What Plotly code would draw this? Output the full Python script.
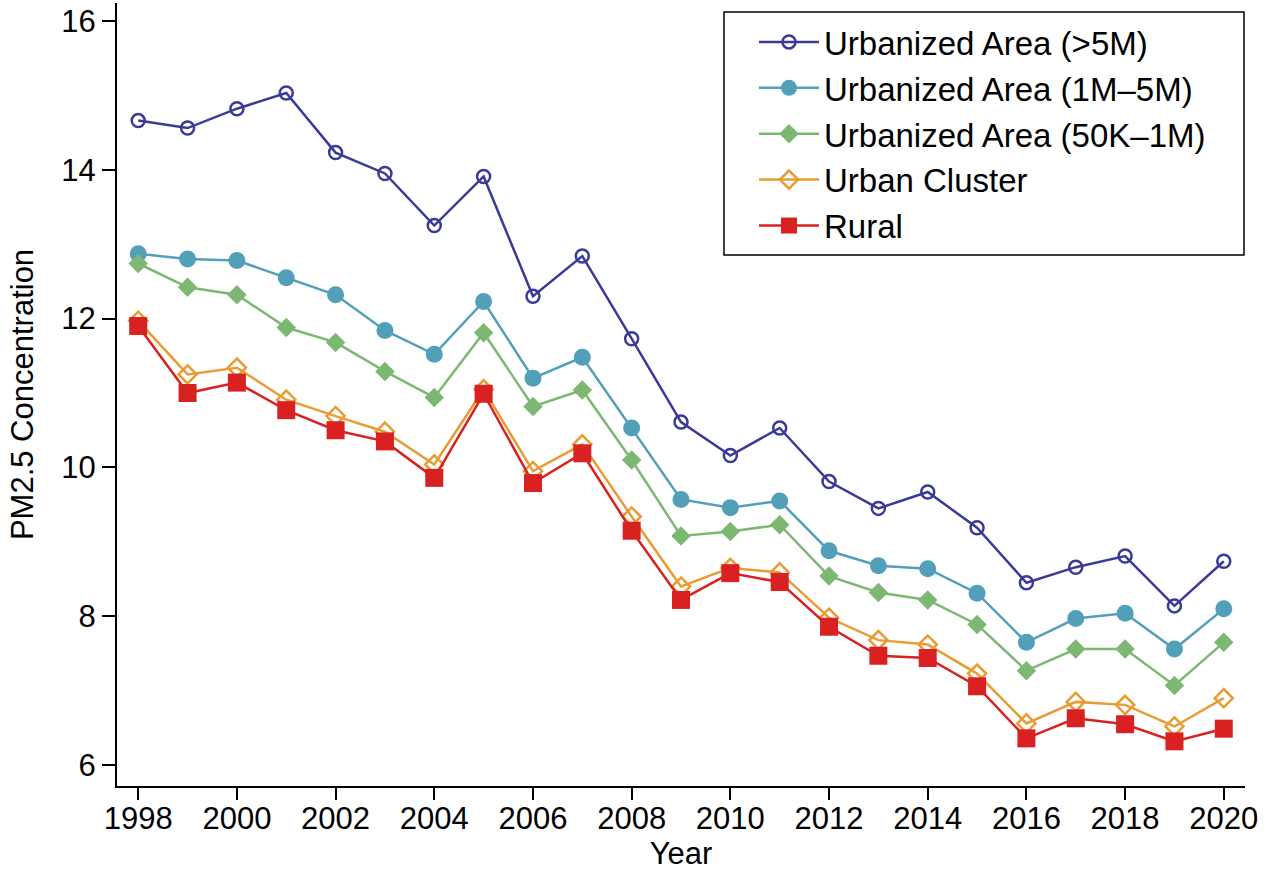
import plotly.graph_objects as go

years = list(range(1998, 2021))

ua_5m = [14.66, 14.56, 14.82, 15.03, 14.23, 13.95, 13.25, 13.91, 12.30, 12.84, 11.73, 10.61,
         10.16, 10.53, 9.81, 9.45, 9.67, 9.19, 8.45, 8.66, 8.81, 8.14, 8.74]
ua_1m5m = [12.87, 12.80, 12.78, 12.55, 12.32, 11.84, 11.52, 12.23, 11.20, 11.48, 10.53, 9.57,
           9.46, 9.55, 8.88, 8.68, 8.64, 8.31, 7.65, 7.97, 8.04, 7.56, 8.10]
ua_50k1m = [12.74, 12.42, 12.32, 11.88, 11.68, 11.29, 10.94, 11.81, 10.82, 11.04, 10.10, 9.08,
            9.14, 9.23, 8.54, 8.32, 8.22, 7.89, 7.27, 7.56, 7.56, 7.07, 7.65]
urban_cluster = [11.97, 11.25, 11.34, 10.91, 10.69, 10.48, 10.04, 11.05, 9.95, 10.31, 9.34, 8.40,
                 8.65, 8.59, 7.98, 7.68, 7.62, 7.23, 6.56, 6.85, 6.81, 6.52, 6.90]
rural = [11.90, 11.00, 11.14, 10.77, 10.50, 10.35, 9.86, 10.99, 9.79, 10.19, 9.15, 8.22,
         8.58, 8.46, 7.86, 7.47, 7.44, 7.06, 6.36, 6.63, 6.55, 6.32, 6.49]

series_names = ["Urbanized Area (>5M)", "Urbanized Area (1M\u20135M)",
                "Urbanized Area (50K\u20131M)", "Urban Cluster", "Rural"]
series_values = [ua_5m, ua_1m5m, ua_50k1m, urban_cluster, rural]
colors = ["#3a3a98", "#529fba", "#7db872", "#e89c33", "#d92121"]
symbols = ["circle-open", "circle", "diamond", "diamond-open", "square"]
sizes = [13, 17, 15, 14, 18]

FONT = "Liberation Sans, Arial, sans-serif"

fig = go.Figure()
for i, (name, vals) in enumerate(zip(series_names, series_values)):
    fig.add_trace(go.Scatter(
        x=years, y=vals, name=name, mode="lines+markers",
        legendgroup=f"g{i}",
        line=dict(color=colors[i], width=2.5),
        marker=dict(symbol=symbols[i], size=sizes[i], color=colors[i],
                    line=dict(color=colors[i], width=2.5 if "open" in symbols[i] else 0)),
    ))

# legend frame (drawn as a paper-anchored box so it can be wider than the entries)
fig.add_shape(type="rect", xref="paper", yref="paper",
              x0=0.5381, x1=0.9991, y0=0.6782, y1=0.9885,
              line=dict(color="black", width=1.5), fillcolor="rgba(0,0,0,0)", layer="above")

fig.update_layout(
    width=1272, height=871,
    margin=dict(l=117, r=27, t=3, b=85),
    paper_bgcolor="white", plot_bgcolor="white",
    font=dict(family=FONT, size=31, color="black"),
    showlegend=True,
    legend=dict(
        x=0.5647, y=0.986, xanchor="left", yanchor="top",
        borderwidth=0, bgcolor="rgba(0,0,0,0)",
        font=dict(family=FONT, size=33, color="black"),
        tracegroupgap=0, itemwidth=60,
    ),
    xaxis=dict(
        range=[1997.57, 2020.43], tickmode="array", tickvals=list(range(1998, 2021, 2)),
        showline=True, linecolor="black", linewidth=2, mirror=False,
        ticks="outside", ticklen=12, tickwidth=2, tickcolor="black",
        showgrid=False, zeroline=False, automargin=False,
        tickfont=dict(family=FONT, size=31), ticklabelstandoff=-8,
        title=dict(text="Year", font=dict(family=FONT, size=31), standoff=12),
    ),
    yaxis=dict(
        range=[5.72, 16.24], tickmode="array", tickvals=[6, 8, 10, 12, 14, 16],
        showline=True, linecolor="black", linewidth=2, mirror=False,
        ticks="outside", ticklen=13, tickwidth=2, tickcolor="black",
        showgrid=False, zeroline=False, automargin=False,
        tickfont=dict(family=FONT, size=31),
        title=dict(text="PM2.5 Concentration", font=dict(family=FONT, size=31), standoff=18),
    ),
)

fig.write_html("out.html", config={"displayModeBar": False},
               post_script="document.body.style.margin='0px';document.body.style.overflow='hidden';")
